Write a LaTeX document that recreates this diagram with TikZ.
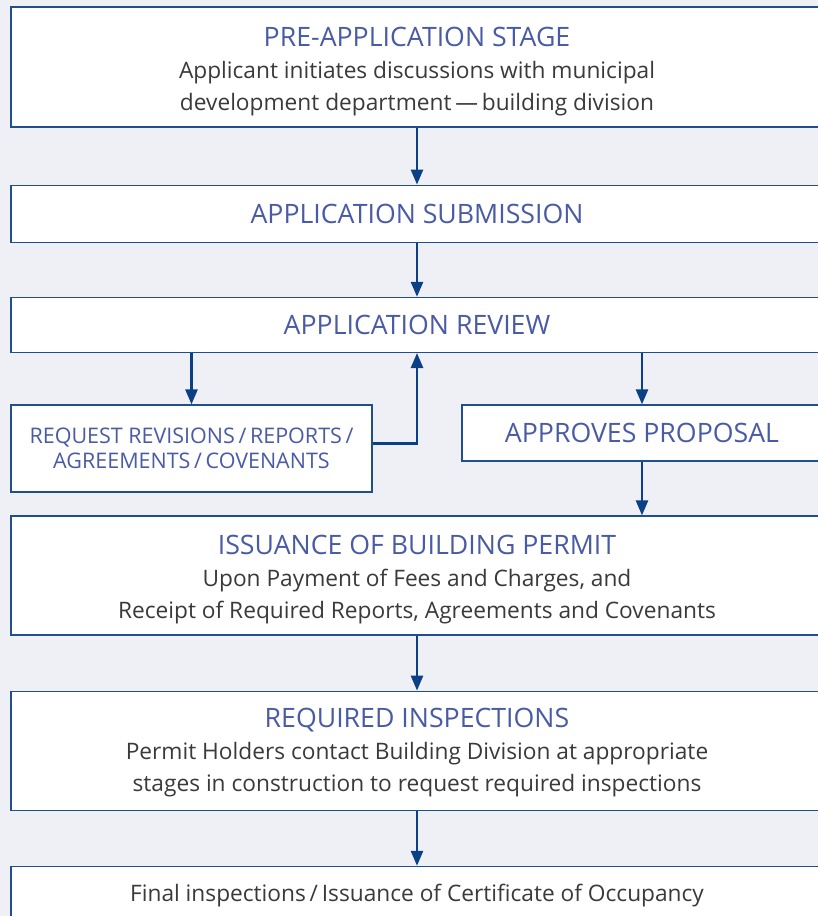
\documentclass[tikz,border=0pt]{standalone}
\usepackage{fontspec}
\setmainfont{Open Sans}
\usepackage{tikz}
\usetikzlibrary{positioning, arrows.meta}
\definecolor{pagebg}{HTML}{EFF0F6}
\definecolor{boxline}{HTML}{1F4F8F}
\definecolor{arrowblue}{HTML}{0B3F86}
\definecolor{headblue}{HTML}{4A5BA5}
\definecolor{bodygray}{HTML}{3A3A3A}
\tikzstyle{stage} = [rectangle, minimum width=812pt, inner sep=0pt, align=center, draw=boxline, line width=1.2pt, fill=white, text=bodygray, font=\fontsize{22.7}{32}\selectfont]
\tikzstyle{side} = [stage, minimum width=360pt]
\tikzstyle{arrow} = [line width=2.6pt, draw=arrowblue, -{Triangle[length=15pt,width=12pt]}]
\newcommand{\head}[1]{{\fontsize{26.7}{32}\selectfont\textcolor{headblue}{#1}}}
\newcommand{\lift}[1]{\rule{0pt}{#1}}
\def\gap{57pt}

\begin{document}
\begin{tikzpicture}[x=1pt, y=-1pt]
\fill[pagebg] (0,0) rectangle (818,916);
\useasboundingbox (0,0) rectangle (818,916);
\clip (0,0) rectangle (818,916);

\node (pre) [stage, minimum height=120pt] at (417,67) {\lift{29pt}\head{PRE-APPLICATION STAGE}\\Applicant initiates discussions with municipal\\development department\,---\,building division};
\node (submit) [stage, minimum height=57pt, below=\gap of pre] {\head{APPLICATION SUBMISSION}};
\node (review) [stage, minimum height=55pt, below=54pt of submit] {\head{APPLICATION REVIEW}};

\node (revise) [side, minimum width=361pt, minimum height=87pt, text=headblue, font=\fontsize{21.5}{25}\selectfont] at (191.5,448.5) {REQUEST REVISIONS\,/\,REPORTS\,/\\AGREEMENTS\,/\,COVENANTS};
\node (approve) [side, minimum height=56pt] at (642,433) {\head{APPROVES PROPOSAL}};

\node (permit) [stage, minimum height=119pt] at (417,575.5) {\lift{28pt}\head{ISSUANCE OF BUILDING PERMIT}\\Upon Payment of Fees and Charges, and\\Receipt of Required Reports, Agreements and Covenants};
\node (inspect) [stage, minimum height=119pt, below=55pt of permit] {\lift{24pt}\head{REQUIRED INSPECTIONS}\\Permit Holders contact Building Division at appropriate\\stages in construction to request required inspections};
\node (final) [stage, minimum height=58pt, below=55pt of inspect] {Final inspections\,/\,Issuance of Certificate of Occupancy};

\draw [arrow] (pre) -- (submit);
\draw [arrow] (submit) -- (review);
\draw [arrow] (review.south -| revise.north) -- (revise);
\draw [arrow] (review.south -| approve.north) -- (approve);
\draw [arrow] ([yshift=5pt]revise.east) -| (review.south);
\draw [arrow] (approve) -- (permit.north -| approve.south);
\draw [arrow] (permit) -- (inspect);
\draw [arrow] (inspect) -- (final);

\end{tikzpicture}
\end{document}
